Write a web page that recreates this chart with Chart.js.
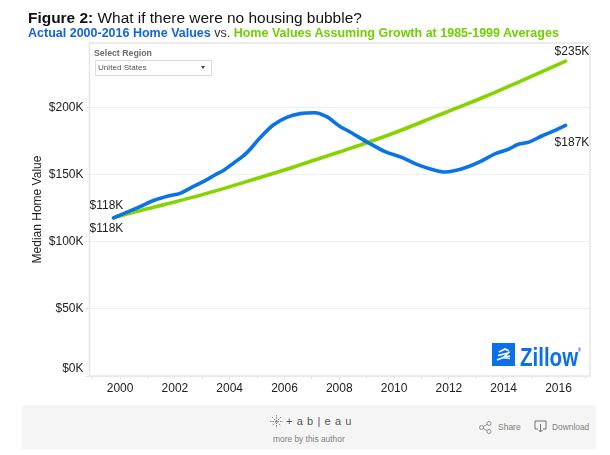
<!DOCTYPE html>
<html>
<head>
<meta charset="utf-8">
<script src="https://cdn.jsdelivr.net/npm/chart.js@4"></script>
<style>
  body { margin: 0; background: #fff; font-family: "Liberation Sans", Arial, sans-serif; }
  #wrap { position: relative; width: 610px; height: 455px; overflow: hidden; }
  #wrap div, #wrap svg { position: absolute; white-space: nowrap; }
  canvas { position: absolute; left: 0; top: 0; }
  #title { left: 28px; top: 8.5px; font-size: 15.45px; line-height: 18px; color: #111; }
  #subtitle { left: 28px; top: 25.5px; font-size: 12.5px; line-height: 14px; font-weight: bold; color: #333; }
  #subtitle .blue { color: #1264e6; }
  #subtitle .green { color: #6fd000; }
  #subtitle .vs { font-weight: normal; }
  #regionLabel { left: 94px; top: 48px; font-size: 8.75px; line-height: 10px; font-weight: bold; color: #6b6b6b; }
  #regionBox { left: 94.5px; top: 60px; width: 115px; height: 14px; border: 1px solid #dcdcdc; background: #fff; }
  #regionText { left: 98px; top: 63px; font-size: 8.1px; line-height: 10px; color: #555; }
  #regionArrow { left: 200.5px; top: 65.5px; width: 0; height: 0; border-left: 2.5px solid transparent; border-right: 2.5px solid transparent; border-top: 3px solid #444; }
  #zillowBox { left: 491.5px; top: 343px; width: 23px; height: 23px; background: #0a6fe8; }
  #zillowText { left: 520px; top: 344px; font-size: 25px; line-height: 26px; font-weight: bold; color: #0a6fe8; transform: scaleX(0.82); transform-origin: left top; }
  #zillowText sup { font-size: 5px; line-height: 0; vertical-align: 14px; }
  #footer { left: 22px; top: 405px; width: 574px; height: 44px; background: #f5f5f5; }
  #tableau { left: 286px; top: 415px; font-size: 11px; line-height: 13px; color: #555; letter-spacing: 0.6px; }
  #author { left: 273px; top: 434px; font-size: 8.4px; line-height: 10px; color: #808080; }
  #share { left: 498px; top: 422px; font-size: 8.5px; line-height: 10px; color: #808080; }
  #download { left: 552px; top: 422px; font-size: 8.4px; line-height: 10px; color: #808080; }
</style>
</head>
<body>
<div id="wrap">
  <canvas id="chart" width="610" height="455"></canvas>
  <div id="title"><b>Figure 2:</b> What if there were no housing bubble?</div>
  <div id="subtitle"><span class="blue">Actual 2000-2016 Home Values</span> <span class="vs">vs.</span> <span class="green">Home Values Assuming Growth at 1985-1999 Averages</span></div>
  <div id="regionLabel">Select Region</div>
  <div id="regionBox"></div>
  <div id="regionText">United States</div>
  <div id="regionArrow"></div>
  <div id="zillowBox"></div>
  <svg style="left:491.5px;top:343px" width="23" height="23" viewBox="0 0 23 23" fill="none" stroke="#fff" stroke-width="1.7">
    <path d="M7 9 L13 6 L17 8"/><path d="M6 12.5 L16 10 L12 14 L18 13"/><path d="M5 17 L11 14.5 L18 15.5"/>
  </svg>
  <div id="zillowText">Zillow<sup>®</sup></div>
  <div id="footer"></div>
  <svg style="left:270px;top:415px" width="13" height="13" viewBox="0 0 13 13" stroke="#888" stroke-width="1" stroke-dasharray="1.5 1">
    <path d="M6.5 0V13M0 6.5H13M2 2L11 11M11 2L2 11"/>
  </svg>
  <div id="tableau">+ a b | e a u</div>
  <div id="author">more by this author</div>
  <svg style="left:479px;top:421px" width="13" height="13" viewBox="0 0 13 13" fill="none" stroke="#777" stroke-width="0.8">
    <circle cx="2.5" cy="6.5" r="2"/><circle cx="10" cy="2.5" r="2"/><circle cx="10" cy="10.5" r="2"/><path d="M4.3 5.5L8.2 3.4M4.3 7.5L8.2 9.6"/>
  </svg>
  <div id="share">Share</div>
  <svg style="left:534px;top:420px" width="13" height="13" viewBox="0 0 13 13" fill="none" stroke="#666" stroke-width="0.9">
    <path d="M4 9H1V1H12V9H9M6.5 4V12M4.5 10L6.5 12L8.5 10"/>
  </svg>
  <div id="download">Download</div>
</div>

<script>
// ====== DATA ======
const actualYears = [2000, 2000.91, 2001.51, 2002, 2002.43, 2002.85, 2003.34, 2003.7, 2004.04, 2004.37, 2004.86, 2005.35, 2005.83, 2006.32, 2006.81, 2007.35, 2007.78, 2008.24, 2008.57, 2009.3, 2009.91, 2010.52, 2011.12, 2011.73, 2012.1, 2012.44, 2012.89, 2013.38, 2013.92, 2014.41, 2014.77, 2015.14, 2015.63, 2016.05, 2016.5];
const actualValues = [118, 125.9, 131.3, 134.3, 136.3, 140.8, 145.8, 150, 153.8, 158.7, 166.5, 177.8, 187.3, 193, 195.8, 196.5, 193.5, 186.6, 182.8, 174.1, 167.4, 163.2, 157.5, 153.5, 152.2, 153.2, 155.8, 160, 165.7, 169.2, 172.9, 174.4, 179.1, 182.8, 187];

const trendYears = [2000, 2000.91, 2002.12, 2003.34, 2004.04, 2005.1, 2006.32, 2007.54, 2008.24, 2009.3, 2010.52, 2011.73, 2012.44, 2013.5, 2014.72, 2016.5];
const trendValues = [118, 123.1, 129.3, 135.9, 140, 146.6, 154.3, 162.5, 167.2, 174.4, 183.6, 193.5, 199.3, 208, 218.8, 235];

const valueTicks = [0, 50, 100, 150, 200];
const yearTicks = [1999, 2000, 2001, 2002, 2003, 2004, 2005, 2006, 2007, 2008, 2009, 2010, 2011, 2012, 2013, 2014, 2015, 2016, 2017];

// tick labels sit a little right of the first data point in the original
const tickShift = 0.24;

function toPoints(xs, ys) {
  return xs.map((x, i) => ({ x, y: ys[i] }));
}

// ====== PLUGINS ======
const frame = {
  id: "frame",
  beforeDatasetsDraw(chart) {
    const a = chart.chartArea;
    const c = chart.ctx;
    c.save();
    c.strokeStyle = "#e6e6e6";
    c.lineWidth = 1.5;
    c.strokeRect(a.left, a.top, a.right - a.left, a.bottom - a.top);
    c.restore();
  },
};

const endLabels = {
  id: "endLabels",
  afterDatasetsDraw(chart) {
    const x = chart.scales.x;
    const y = chart.scales.y;
    const c = chart.ctx;
    const first = actualYears[0];
    const last = actualYears[actualYears.length - 1];
    const notes = [
      [first, actualValues[0], "$118K", -24, -12],
      [first, trendValues[0], "$118K", -24, 11],
      [last, trendValues[trendValues.length - 1], "$235K", -11, -9],
      [last, actualValues[actualValues.length - 1], "$187K", -11, 17],
    ];
    c.save();
    c.font = '12px "Liberation Sans"';
    c.fillStyle = "#222";
    c.textAlign = "left";
    c.textBaseline = "middle";
    notes.forEach((n) => {
      c.fillText(n[2], x.getPixelForValue(n[0]) + n[3], y.getPixelForValue(n[1]) + n[4]);
    });
    c.restore();
  },
};

// ====== CHART ======
new Chart(document.getElementById("chart"), {
  type: "line",
  data: {
    datasets: [
      {
        label: "Actual 2000-2016 Home Values",
        data: toPoints(actualYears, actualValues),
        borderColor: "#0a74e6",
        borderWidth: 3.6,
        borderCapStyle: "round",
        borderJoinStyle: "round",
        pointRadius: 0,
        cubicInterpolationMode: "monotone",
      },
      {
        label: "Home Values Assuming Growth at 1985-1999 Averages",
        data: toPoints(trendYears, trendValues),
        borderColor: "#84d400",
        borderWidth: 3.6,
        borderCapStyle: "round",
        borderJoinStyle: "round",
        pointRadius: 0,
        cubicInterpolationMode: "monotone",
      },
    ],
  },
  options: {
    responsive: false,
    animation: false,
    layout: { padding: { top: 43, right: 20, bottom: 0, left: 0 } },
    plugins: { legend: { display: false }, tooltip: { enabled: false } },
    scales: {
      x: {
        type: "linear",
        min: 1999.124,
        max: 2017.39,
        afterBuildTicks(scale) {
          scale.ticks = yearTicks.map((v) => ({ value: v + tickShift }));
        },
        afterFit(scale) {
          scale.height = 79;
        },
        grid: { drawOnChartArea: false, tickLength: 3, tickColor: "#e2e2e2" },
        border: { display: false },
        ticks: {
          autoSkip: false,
          maxRotation: 0,
          padding: 2,
          color: "#222",
          font: { family: "Liberation Sans", size: 12 },
          callback(v) {
            const year = Math.floor(v);
            return year % 2 === 0 && year >= 2000 && year <= 2016 ? String(year) : "";
          },
        },
      },
      y: {
        min: 0,
        max: 248.5,
        afterBuildTicks(scale) {
          scale.ticks = valueTicks.map((v) => ({ value: v }));
        },
        afterFit(scale) {
          scale.width = 89.5;
        },
        grid: { color: "#efefef", tickLength: 4, tickColor: "#e2e2e2" },
        border: { display: false },
        title: {
          display: true,
          text: "Median Home Value",
          color: "#222",
          padding: { top: 30, bottom: 0 },
          font: { family: "Liberation Sans", size: 12 },
        },
        ticks: {
          padding: 2,
          color: "#222",
          font: { family: "Liberation Sans", size: 12 },
          // two lines lift the $0K label off the axis line, as in the original
          callback: (v) => (v === 0 ? ["$0K", ""] : "$" + v + "K"),
        },
      },
    },
  },
  plugins: [frame, endLabels],
});
</script>
</body>
</html>
